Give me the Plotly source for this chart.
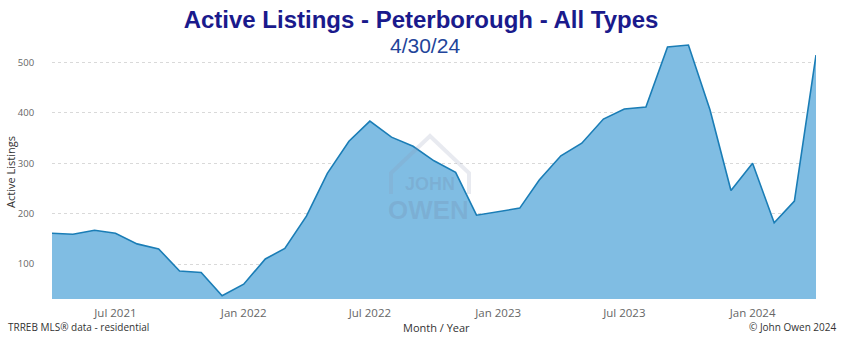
import plotly.graph_objects as go

months = ["2021-04-01", "2021-05-01", "2021-06-01", "2021-07-01", "2021-08-01", "2021-09-01",
          "2021-10-01", "2021-11-01", "2021-12-01", "2022-01-01", "2022-02-01", "2022-03-01",
          "2022-04-01", "2022-05-01", "2022-06-01", "2022-07-01", "2022-08-01", "2022-09-01",
          "2022-10-01", "2022-11-01", "2022-12-01", "2023-01-01", "2023-02-01", "2023-03-01",
          "2023-04-01", "2023-05-01", "2023-06-01", "2023-07-01", "2023-08-01", "2023-09-01",
          "2023-10-01", "2023-11-01", "2023-12-01", "2024-01-01", "2024-02-01", "2024-03-01",
          "2024-04-01"]
active_listings = [161, 159, 167, 161, 140, 130,
                   86, 83, 37, 60, 110, 131,
                   195, 280, 344, 384, 352, 334,
                   305, 282, 197, 204, 211, 267,
                   315, 340, 388, 408, 412, 531,
                   535, 406, 246, 300, 182, 225,
                   515]
y_ticks = [100, 200, 300, 400, 500]

title_text = "Active Listings - Peterborough - All Types"
subtitle_text = "4/30/24"

# layout geometry (px)
W, H = 843, 341
L, R, T, B = 52, 27, 40, 42
PW, PH = W - L - R, H - T - B


def px(x):
    return (x - L) / PW


def py(y):
    return 1 - (y - T) / PH


fig = go.Figure()
fig.add_trace(go.Scatter(
    x=months, y=active_listings, mode="lines",
    line=dict(color="#1A7DB6", width=1.6),
    fill="tozeroy", fillcolor="#80BDE3",
    hoverinfo="x+y", showlegend=False,
))

fig.update_layout(
    width=W, height=H,
    margin=dict(l=L, r=R, t=T, b=B, pad=0),
    paper_bgcolor="white", plot_bgcolor="white",
    title=dict(text=f"<b>{title_text}</b>", x=(421 / W), xanchor="center",
               y=1 - 20 / H, yanchor="middle",
               font=dict(family="Liberation Sans, Arial, sans-serif", size=24, color="#1A1A8C")),
    xaxis=dict(
        type="date", range=[months[0], months[-1]],
        tick0="2021-07-01", dtick="M6", tickformat="%b %Y",
        showgrid=False, zeroline=False, showline=False,
        ticks="outside", ticklen=3, tickcolor="rgba(0,0,0,0)",
        tickfont=dict(family="Open Sans, DejaVu Sans, sans-serif", size=11.5, color="#666666"),
    ),
    yaxis=dict(
        range=[30.5, 545], tickvals=y_ticks,
        showgrid=True, gridcolor="#D9D9D9", griddash="dot", gridwidth=1,
        zeroline=False, showline=False,
        ticks="outside", ticklen=15, tickcolor="rgba(0,0,0,0)",
        tickfont=dict(family="Open Sans, DejaVu Sans, sans-serif", size=9.5, color="#666666"),
    ),
    font=dict(family="Open Sans, DejaVu Sans, sans-serif"),
)

annos = [
    dict(text=subtitle_text, x=px(425), y=py(46), xanchor="center", yanchor="middle",
         font=dict(family="Liberation Sans, Arial, sans-serif", size=21, color="#22449A")),
    dict(text="Active Listings", x=px(10), y=py(172), textangle=-90,
         xanchor="center", yanchor="middle",
         font=dict(family="Open Sans, DejaVu Sans, sans-serif", size=11, color="#333333")),
    dict(text="Month / Year", x=px(436), y=py(327), xanchor="center", yanchor="middle",
         font=dict(family="Open Sans, DejaVu Sans, sans-serif", size=11, color="#333333")),
    dict(text="TRREB MLS® data - residential", x=px(6), y=py(327), xanchor="left", yanchor="middle",
         font=dict(family="Open Sans, DejaVu Sans, sans-serif", size=10, color="#333333")),
    dict(text="© John Owen 2024", x=px(839), y=py(327), xanchor="right", yanchor="middle",
         font=dict(family="Open Sans, DejaVu Sans, sans-serif", size=10, color="#333333")),
    dict(text="<b>JOHN</b>", x=px(430), y=py(184), xanchor="center", yanchor="middle",
         font=dict(family="Liberation Sans, Arial, sans-serif", size=18, color="rgba(110,125,160,0.22)")),
    dict(text="<b>OWEN</b>", x=px(428), y=py(210), xanchor="center", yanchor="middle",
         font=dict(family="Liberation Sans, Arial, sans-serif", size=26, color="rgba(110,125,160,0.22)")),
]
for a in annos:
    a.update(xref="paper", yref="paper", showarrow=False)
fig.update_layout(annotations=annos)

# faint house outline of the watermark
pts = [(391, 194), (391, 173), (430, 136), (469, 173), (469, 194)]
path = "M " + " L ".join(f"{px(x)},{py(y)}" for x, y in pts)
fig.add_shape(type="path", path=path, xref="paper", yref="paper",
              line=dict(color="rgba(140,150,180,0.2)", width=4), layer="above")

fig.write_html("out.html")
